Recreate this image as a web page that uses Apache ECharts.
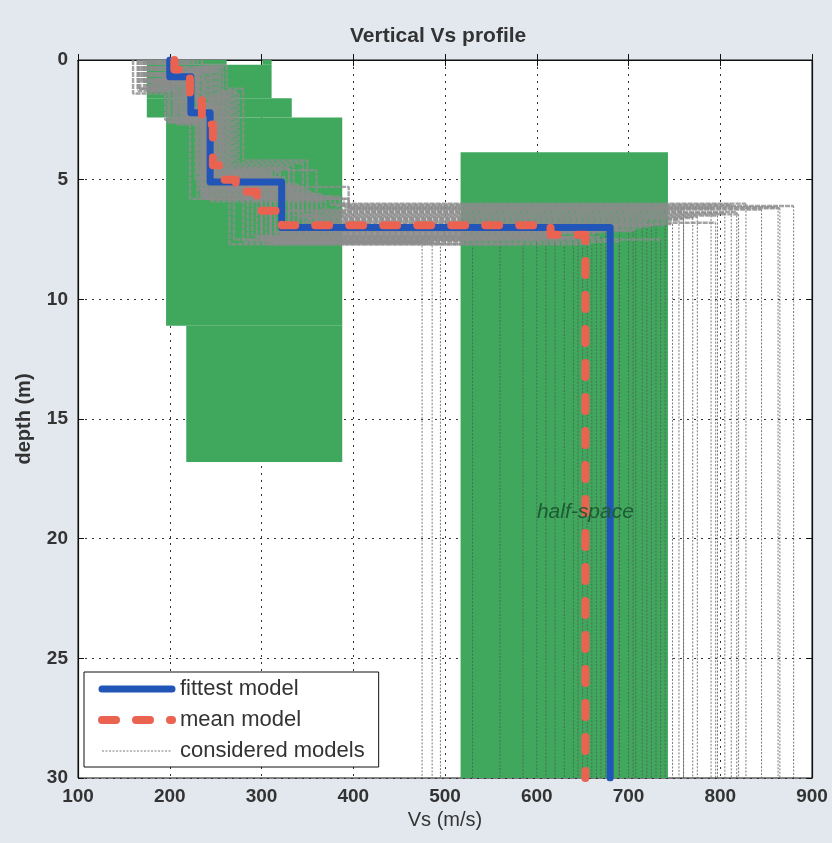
<!DOCTYPE html>
<html>
<head>
<meta charset="utf-8">
<script src="https://cdn.jsdelivr.net/npm/echarts@6/dist/echarts.min.js"></script>
<style>
  html, body { margin: 0; padding: 0; background: #e2e8ee; }
  #chart { width: 832px; height: 843px; }
</style>
</head>
<body>
<div id="chart"></div>
<script>
// Axis ticks
const vsTicks = [100, 200, 300, 400, 500, 600, 700, 800, 900];
const depthTicks = [0, 5, 10, 15, 20, 25, 30];

// Fittest model: Vs of each layer (last = half-space) and depth of each layer base
const fittestVs = [200, 223, 244, 322, 680];
const fittestBase = [0.7, 2.2, 5.1, 7.0];

// Mean model
const meanVs = [205, 222, 235, 247, 255, 272, 295, 322, 615, 653];
const meanBase = [0.4, 1.4, 2.7, 4.4, 5.0, 5.5, 6.3, 6.9, 7.3];

// Considered models: layer velocities (last = half-space) and layer bases
const consideredVs = [
  [172, 205, 228, 300, 760], [190, 220, 245, 330, 680], [205, 232, 250, 320, 655],
  [165, 200, 240, 345, 820], [215, 245, 262, 310, 640], [180, 215, 235, 360, 795],
  [198, 225, 255, 300, 560], [225, 255, 270, 335, 705], [160, 195, 222, 380, 880],
  [208, 238, 248, 325, 620], [185, 218, 242, 395, 865], [200, 228, 258, 315, 495],
  [170, 208, 230, 290, 600], [235, 262, 280, 350, 740], [195, 222, 240, 340, 770],
  [178, 212, 250, 305, 585], [212, 240, 265, 330, 690], [188, 230, 245, 370, 805],
  [168, 200, 236, 310, 475], [220, 250, 275, 345, 720], [202, 235, 252, 320, 665],
  [182, 210, 238, 385, 828], [196, 226, 246, 300, 530], [230, 258, 268, 360, 755],
  [175, 205, 232, 335, 797], [210, 244, 260, 315, 610], [186, 216, 244, 355, 818],
  [200, 238, 255, 325, 486], [192, 224, 250, 340, 725], [216, 246, 258, 310, 645],
  [178, 208, 236, 390, 863], [204, 230, 254, 330, 700], [184, 214, 240, 280, 690],
  [206, 236, 252, 270, 735], [174, 204, 234, 365, 845], [222, 252, 266, 300, 670],
  [190, 220, 244, 350, 760], [198, 232, 250, 285, 630], [166, 198, 230, 375, 812],
  [214, 242, 262, 320, 708], [194, 226, 248, 345, 748], [180, 212, 238, 265, 660],
  [226, 254, 272, 330, 715], [188, 218, 240, 395, 790], [200, 230, 256, 310, 675],
  [172, 206, 236, 355, 775], [218, 248, 264, 295, 650], [196, 224, 246, 340, 730]
];
const consideredBase = [
  [0.9, 2.4, 5.0, 6.3], [0.7, 2.1, 5.2, 7.05], [0.5, 1.8, 4.6, 7.2],
  [1.2, 2.6, 5.4, 6.45], [0.4, 1.5, 4.8, 7.4], [1.0, 2.3, 5.6, 6.8],
  [0.6, 2.0, 5.1, 7.5], [0.3, 1.3, 4.4, 7.15], [1.4, 2.5, 5.8, 6.1],
  [0.8, 2.2, 4.9, 7.3], [1.1, 2.4, 5.3, 6.2], [0.5, 1.7, 5.0, 7.65],
  [0.9, 2.7, 4.7, 7.35], [0.2, 1.2, 4.2, 6.9], [0.7, 2.0, 5.5, 6.6],
  [1.3, 2.3, 5.2, 7.7], [0.6, 1.6, 4.5, 7.0], [1.0, 2.8, 5.9, 6.4],
  [1.2, 2.6, 5.0, 7.6], [0.4, 1.4, 4.3, 6.75], [0.8, 1.9, 5.1, 7.25],
  [1.0, 2.2, 5.7, 6.0], [0.6, 2.1, 4.9, 7.55], [0.3, 1.5, 4.6, 6.7],
  [1.1, 2.4, 5.4, 6.5], [0.5, 1.7, 4.8, 7.3], [0.9, 2.5, 5.6, 6.35],
  [0.7, 1.8, 5.0, 7.6], [0.8, 2.0, 5.3, 6.95], [0.4, 1.6, 4.7, 7.45],
  [1.3, 2.6, 5.8, 6.15], [0.6, 1.9, 5.2, 7.1], [0.8, 2.2, 5.0, 7.6],
  [0.6, 1.9, 4.9, 7.5], [1.1, 2.5, 5.6, 6.25], [0.4, 1.4, 4.6, 7.4],
  [0.9, 2.3, 5.4, 6.65], [0.7, 2.0, 4.8, 7.5], [1.3, 2.6, 5.7, 6.05],
  [0.5, 1.6, 4.7, 7.1], [0.8, 2.1, 5.3, 6.85], [1.0, 2.4, 5.0, 7.7],
  [0.3, 1.3, 4.5, 7.0], [1.0, 2.2, 5.8, 6.2], [0.6, 1.8, 4.9, 7.2],
  [1.2, 2.5, 5.5, 6.55], [0.4, 1.5, 4.7, 7.4], [0.7, 2.0, 5.2, 6.9]
];

// Velocity range of each layer: [Vs min, Vs max, top, base]
const envelope = [
  [175, 262, 0, 0.2], [301, 311, 0, 0.2],
  [175, 311, 0.2, 1.6], [175, 333, 1.6, 2.4],
  [196, 388, 2.4, 11.1], [218, 388, 11.1, 16.8],
  [517, 743, 3.85, 30]
];

// Label of the half-space: [Vs, depth, text]
const halfSpaceLabel = [[653, 18.9, 'half-space']];

const depthMax = depthTicks[depthTicks.length - 1];

// Full step profile down to the bottom of the plot
function stepProfile(vs, base) {
  const pts = [];
  let top = 0;
  vs.forEach((v, i) => {
    const b = i < base.length ? base[i] : depthMax;
    pts.push([v, top], [v, b]);
    top = b;
  });
  return pts;
}

// Layers above the half-space, ending at the top of the half-space
function upperProfile(vs, base) {
  const pts = [];
  let top = 0;
  base.forEach((b, i) => {
    pts.push([vs[i], top], [vs[i], b]);
    top = b;
  });
  pts.push([vs[vs.length - 1], top]);
  return pts;
}

// Half-space of a model
function halfSpaceProfile(vs, base) {
  const v = vs[vs.length - 1];
  return [[v, base[base.length - 1]], [v, depthMax]];
}

const FONT = "'Liberation Sans', Arial, Helvetica, sans-serif";

const chart = echarts.init(document.getElementById('chart'), null, { renderer: 'canvas' });

const halfSpaceSeries = consideredVs.map((vs, i) => ({
  name: 'considered models',
  type: 'line',
  data: halfSpaceProfile(vs, consideredBase[i]),
  symbol: 'none', clip: true, z: 3, silent: true,
  itemStyle: { color: '#5a5a5a' },
  lineStyle: { color: '#5a5a5a', width: 1, type: [2, 1.5], opacity: 0.8 }
}));

const upperSeries = consideredVs.map((vs, i) => ({
  name: 'considered models',
  type: 'line',
  data: upperProfile(vs, consideredBase[i]),
  symbol: 'none', clip: true, z: 3, silent: true,
  itemStyle: { color: '#8c8c8c' },
  lineStyle: { color: '#8c8c8c', width: 2.4, type: [5, 1], opacity: 0.8 }
}));

const axisCommon = {
  type: 'value',
  axisLine: { show: true, lineStyle: { color: '#111', width: 1.2 } },
  axisTick: { show: true, inside: true, length: 6, lineStyle: { color: '#111' } }
};

const option = {
  backgroundColor: 'transparent',
  animation: false,
  title: {
    text: 'Vertical Vs profile',
    left: 345, top: 21,
    textStyle: { fontFamily: FONT, fontSize: 21, fontWeight: 'bold', color: '#333' }
  },
  grid: {
    left: 78, top: 60, width: 734, height: 718,
    show: true, backgroundColor: '#ffffff', borderColor: '#111', borderWidth: 1
  },
  legend: {
    data: ['fittest model', 'mean model', 'considered models'],
    orient: 'vertical',
    left: 84, top: 672,
    backgroundColor: '#ffffff',
    borderColor: '#111', borderWidth: 1,
    padding: [6, 14, 5, 14],
    itemWidth: 70, itemHeight: 14, itemGap: 9,
    selectedMode: false,
    itemStyle: { opacity: 0 },
    lineStyle: { width: 'inherit' },
    textStyle: { fontFamily: FONT, fontSize: 22, color: '#333', lineHeight: 22, padding: [0, 0, 0, 3] }
  },
  xAxis: [
    Object.assign({}, axisCommon, {
      position: 'bottom',
      min: vsTicks[0], max: vsTicks[vsTicks.length - 1], interval: vsTicks[1] - vsTicks[0],
      name: 'Vs (m/s)', nameLocation: 'middle', nameGap: 32,
      nameTextStyle: { fontFamily: FONT, fontSize: 20, color: '#333' },
      axisLabel: { fontFamily: FONT, fontSize: 19, fontWeight: 'bold', color: '#333', margin: 9 },
      splitLine: { show: true, lineStyle: { color: '#333', width: 1, type: [2, 5] } }
    }),
    Object.assign({}, axisCommon, {
      position: 'top',
      min: vsTicks[0], max: vsTicks[vsTicks.length - 1], interval: vsTicks[1] - vsTicks[0],
      axisLabel: { show: false }, splitLine: { show: false }
    })
  ],
  yAxis: [
    Object.assign({}, axisCommon, {
      position: 'left', inverse: true,
      min: depthTicks[0], max: depthMax, interval: depthTicks[1] - depthTicks[0],
      name: 'depth (m)', nameLocation: 'middle', nameGap: 44, nameRotate: 90,
      nameTextStyle: { fontFamily: FONT, fontSize: 20, fontWeight: 'bold', color: '#333' },
      axisLabel: { fontFamily: FONT, fontSize: 19, fontWeight: 'bold', color: '#333', margin: 10 },
      splitLine: { show: true, lineStyle: { color: '#333', width: 1, type: [2, 5] } }
    }),
    Object.assign({}, axisCommon, {
      position: 'right', inverse: true,
      min: depthTicks[0], max: depthMax, interval: depthTicks[1] - depthTicks[0],
      axisLabel: { show: false }, splitLine: { show: false }
    })
  ],
  series: [
    {
      name: 'envelope',
      type: 'custom',
      data: envelope,
      clip: true,
      z: 2,
      silent: true,
      renderItem: function (params, api) {
        const p1 = api.coord([api.value(0), api.value(2)]);
        const p2 = api.coord([api.value(1), api.value(3)]);
        return {
          type: 'rect',
          shape: {
            x: Math.min(p1[0], p2[0]), y: Math.min(p1[1], p2[1]),
            width: Math.abs(p2[0] - p1[0]), height: Math.abs(p2[1] - p1[1])
          },
          style: { fill: '#3fa85d' }
        };
      }
    },
    ...halfSpaceSeries,
    ...upperSeries,
    {
      name: 'fittest model',
      type: 'line',
      data: stepProfile(fittestVs, fittestBase),
      symbol: 'none', clip: true, z: 4,
      itemStyle: { color: '#2155b8' },
      lineStyle: { color: '#2155b8', width: 7, join: 'round', cap: 'round' }
    },
    {
      name: 'mean model',
      type: 'line',
      data: stepProfile(meanVs, meanBase),
      symbol: 'none', clip: true, z: 5,
      itemStyle: { color: '#ea6350' },
      lineStyle: { color: '#ea6350', width: 8, type: [14, 20], cap: 'round', join: 'round' }
    },
    {
      name: 'half-space',
      type: 'custom',
      data: halfSpaceLabel,
      z: 6,
      silent: true,
      renderItem: function (params, api) {
        const p = api.coord([api.value(0), api.value(1)]);
        return {
          type: 'text',
          x: p[0], y: p[1],
          style: {
            text: halfSpaceLabel[params.dataIndex][2],
            fill: '#1d5b34',
            font: 'italic 21px ' + FONT,
            align: 'center', verticalAlign: 'middle'
          }
        };
      }
    }
  ]
};

chart.setOption(option);
</script>
</body>
</html>
